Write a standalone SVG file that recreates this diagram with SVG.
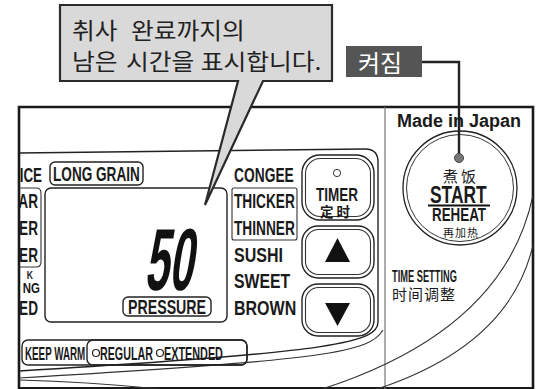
<svg xmlns="http://www.w3.org/2000/svg" width="553" height="389" viewBox="0 0 553 389">
<style>
.lbl{font-family:"Liberation Sans",Arial,sans-serif;font-weight:bold;fill:#1a1a1a}
.cjk{font-family:"Noto Sans CJK SC","Noto Sans CJK TC",sans-serif;fill:#1a1a1a}
.kr{font-family:"Noto Sans CJK KR",sans-serif;fill:#222}
.ln{fill:none;stroke:#222;stroke-width:1.4}
.thin{fill:none;stroke:#333;stroke-width:1.1}
.frame{fill:none;stroke:#1a1a1a;stroke-width:2.6}
</style>
<defs>
<clipPath id="inframe"><rect x="19" y="107" width="514" height="282"/></clipPath>
</defs>
<rect width="553" height="389" fill="#fff"/>

<g id="panel-frame">
<path class="frame" d="M19,389 V107 H533 V389"/>
<line x1="19" y1="388" x2="533" y2="388" stroke="#1a1a1a" stroke-width="2"/>
<line x1="385" y1="107" x2="385" y2="389" stroke="#777" stroke-width="1.2"/>
</g>

<g id="control-panel" clip-path="url(#inframe)">
<path class="ln" d="M19,153 L365,149 Q378,149 378,162 V322 C378,342 340,352 19,371"/>
<path class="thin" d="M383,330 C370,352 330,360 19,378"/>
<path class="thin" d="M19,380 Q90,382 160,389"/>
<path class="thin" d="M533,195 Q505,330 322,389"/>
<path class="thin" d="M533,245 Q510,345 377,389"/>
</g>

<g id="left-labels" clip-path="url(#inframe)">
<text class="lbl" font-size="20" text-anchor="end" transform="translate(42,182) scale(0.67,1)">RICE</text>
<path class="thin" d="M10,188 H36 Q41,188 41,193 V262 Q41,267 36,267 H10"/>
<text class="lbl" font-size="20" text-anchor="end" transform="translate(38,208) scale(0.68,1)">AR</text>
<text class="lbl" font-size="20" text-anchor="end" transform="translate(38,235) scale(0.68,1)">ER</text>
<text class="lbl" font-size="20" text-anchor="end" transform="translate(38,262) scale(0.68,1)">ER</text>
<text class="lbl" font-size="11.5" text-anchor="end" transform="translate(33,278.5) scale(0.75,1)">K</text>
<text class="lbl" font-size="14" text-anchor="end" transform="translate(40,292.5) scale(0.82,1)">NG</text>
<text class="lbl" font-size="20" text-anchor="end" transform="translate(38,315) scale(0.68,1)">ED</text>
</g>

<g id="long-grain">
<rect class="ln" x="50" y="162" width="93" height="23" rx="5"/>
<text class="lbl" font-size="20" transform="translate(53,181) scale(0.68,1)">LONG GRAIN</text>
</g>

<g id="display">
<rect class="ln" x="45" y="188" width="182" height="134" rx="6"/>
<text font-family="Liberation Sans,Arial,sans-serif" font-weight="bold" font-size="62" fill="#111" transform="translate(144,290) skewX(-9) scale(0.7,1.42)">50</text>
<rect class="ln" x="123" y="297" width="88" height="19" rx="5"/>
<text class="lbl" font-size="20" transform="translate(128,314) scale(0.71,1)">PRESSURE</text>
</g>

<g id="menu-labels">
<text class="lbl" font-size="20" transform="translate(234,182) scale(0.69,1)">CONGEE</text>
<rect class="thin" x="232" y="188" width="65" height="52" rx="2"/>
<text class="lbl" font-size="20" transform="translate(234,208) scale(0.686,1)">THICKER</text>
<text class="lbl" font-size="20" transform="translate(234,235) scale(0.686,1)">THINNER</text>
<text class="lbl" font-size="20" transform="translate(234,262) scale(0.8,1)">SUSHI</text>
<text class="lbl" font-size="20" transform="translate(234,288) scale(0.79,1)">SWEET</text>
<text class="lbl" font-size="20" transform="translate(234,315) scale(0.8,1)">BROWN</text>
</g>

<g id="timer-button">
<rect class="ln" x="302" y="155" width="72" height="65" rx="18"/>
<rect class="thin" x="305.5" y="158.5" width="65" height="58" rx="15"/>
<circle cx="337" cy="173" r="3.6" fill="none" stroke="#333" stroke-width="1"/>
<text class="lbl" font-size="18" transform="translate(316,200.5) scale(0.75,1)">TIMER</text>
<text class="cjk" x="320" y="216.5" font-size="13.5" font-weight="bold" letter-spacing="3">定时</text>
</g>

<g id="up-button">
<rect class="ln" x="302" y="226" width="72" height="52" rx="16"/>
<rect class="thin" x="305.5" y="229.5" width="65" height="45" rx="13"/>
<polygon points="337.5,238 350,262 325,262" fill="#111"/>
</g>

<g id="down-button">
<rect class="ln" x="302" y="284" width="72" height="52" rx="16"/>
<rect class="thin" x="305.5" y="287.5" width="65" height="45" rx="13"/>
<polygon points="325,303 350,303 337.5,326" fill="#111"/>
</g>

<g id="keep-warm">
<rect class="ln" x="22" y="340" width="225" height="25" rx="6"/>
<rect class="ln" x="87" y="340" width="160" height="25" rx="6"/>
<text class="lbl" font-size="19" transform="translate(25,360) scale(0.516,1)">KEEP WARM</text>
<circle cx="96" cy="353" r="3.5" fill="none" stroke="#222" stroke-width="1.2"/>
<text class="lbl" font-size="19" transform="translate(100,360) scale(0.564,1)">REGULAR</text>
<circle cx="160" cy="353" r="3.5" fill="none" stroke="#222" stroke-width="1.2"/>
<text class="lbl" font-size="19" transform="translate(164,360) scale(0.57,1)">EXTENDED</text>
</g>

<g id="made-in-japan">
<text class="lbl" x="397" y="127" font-size="18">Made in Japan</text>
</g>

<g id="start-button">
<circle cx="460" cy="188" r="57" fill="none" stroke="#222" stroke-width="1.3"/>
<circle cx="460" cy="188" r="53.5" fill="none" stroke="#333" stroke-width="1"/>
<text class="cjk" x="443" y="182" font-size="15" letter-spacing="3">煮饭</text>
<text class="lbl" font-size="23" transform="translate(430,203) scale(0.756,1)">START</text>
<line x1="428" y1="205.5" x2="490" y2="205.5" stroke="#111" stroke-width="2"/>
<text class="lbl" font-size="19" transform="translate(432,221) scale(0.705,1)">REHEAT</text>
<text class="cjk" x="443" y="236.5" font-size="11" letter-spacing="1">再加热</text>
</g>

<g id="time-setting">
<text class="lbl" font-size="16" transform="translate(392,281.5) scale(0.58,1)">TIME SETTING</text>
<text class="cjk" x="392" y="299.5" font-size="15" letter-spacing="1">时间调整</text>
</g>

<g id="connectors">
<polyline points="422,62 459,62 459,155" fill="none" stroke="#222" stroke-width="2.4"/>
<circle cx="459" cy="158" r="4.5" fill="#777" stroke="#444" stroke-width="1"/>
</g>

<g id="callout">
<path d="M60,5 H332 V81 H263 L205,205 L238,81 H60 Z" fill="#d9d9d9" stroke="#2a2a2a" stroke-width="2.2" stroke-linejoin="miter"/>
<text class="kr" y="39.5" font-size="22.5" transform="scale(1.1,1)"><tspan x="65.5">취사 </tspan><tspan x="119">완료까지의</tspan></text>
<text class="kr" y="70.5" font-size="22.5" transform="scale(1.1,1)"><tspan x="65.5">남은 </tspan><tspan x="114.5">시간을 </tspan><tspan x="182.5">표시합니다.</tspan></text>
</g>

<g id="on-label">
<rect x="346" y="46" width="76" height="31" fill="#555"/>
<text class="kr" x="358" y="71.5" font-size="24" style="fill:#fff">켜짐</text>
</g>
</svg>
